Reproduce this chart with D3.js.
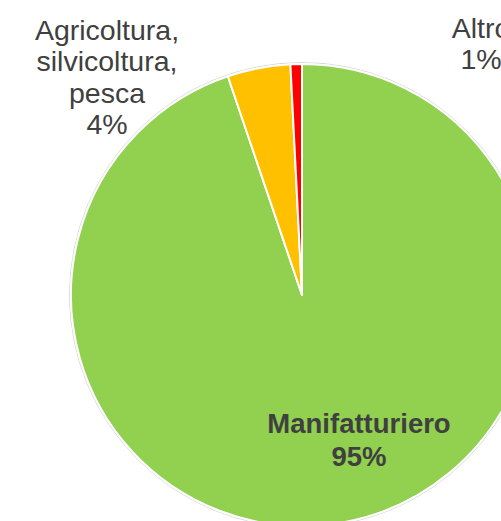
<!DOCTYPE html>
<html>
<head>
<meta charset="utf-8">
<script src="https://cdn.jsdelivr.net/npm/d3@7"></script>
<style>
  body { margin: 0; background: #fff; }
  text { font-family: "Liberation Sans", Arial, sans-serif; fill: #404040; }
</style>
</head>
<body>
<div id="chart"></div>
<script>
// Sector shares (%)
const sectors = ['Manifatturiero', 'Agricoltura, silvicoltura, pesca', 'Altro'];
const shares = [94.8, 4.4, 0.8];
const shareLabels = ['95%', '4%', '1%'];
const colors = ['#92D050', '#FFC000', '#FF0000'];

const width = 501, height = 521;
const cx = 302, cy = 295, radius = 231;

const svg = d3.select('#chart').append('svg')
    .attr('width', width)
    .attr('height', height);

const g = svg.append('g')
    .attr('transform', `translate(${cx},${cy})`);

const data = sectors.map((s, i) => ({name: s, value: shares[i], label: shareLabels[i], color: colors[i]}));

const pie = d3.pie()
    .value(d => d.value)
    .sort(null);

const arc = d3.arc()
    .innerRadius(0)
    .outerRadius(radius);

// faint outer edge
g.append('circle')
    .attr('r', radius + 1.5)
    .attr('fill', 'none')
    .attr('stroke', '#d9d9d9')
    .attr('stroke-width', 1);

g.selectAll('.slice')
    .data(pie(data))
  .join('path')
    .attr('class', 'slice')
    .attr('d', arc)
    .attr('fill', d => d.data.color)
    .attr('stroke', '#fff')
    .attr('stroke-width', 2)
    .attr('stroke-linejoin', 'round');

// Labels (absolute positions in svg)
const labelPos = [
  {x: 359, y: 433, bold: true, size: 27.5, lines: ['Manifatturiero']},
  {x: 107, y: 40, bold: false, size: 28.5, lines: ['Agricoltura,', 'silvicoltura,', 'pesca']},
  {x: 481, y: 38, bold: false, size: 28.5, lines: ['Altro']}
];

data.forEach((d, i) => {
  const p = labelPos[i];
  const lines = p.lines.concat([d.label]);
  const t = svg.append('text')
      .attr('text-anchor', 'middle')
      .attr('font-size', p.size)
      .attr('font-weight', p.bold ? 'bold' : 'normal');
  lines.forEach((l, j) => {
    t.append('tspan')
        .attr('x', p.x)
        .attr('y', p.y + j * (p.bold ? 33 : 31.3))
        .text(l);
  });
});
</script>
</body>
</html>
